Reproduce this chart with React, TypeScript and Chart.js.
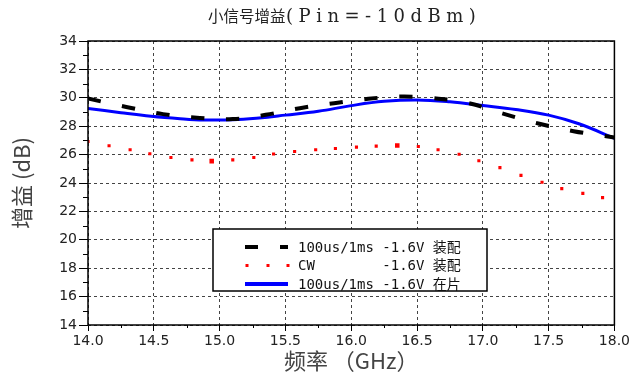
import React, { useEffect, useRef } from 'react';
import { Chart, registerables } from 'chart.js';

Chart.register(...registerables);

// ---- text ----
const TITLE_CN = '小信号增益';
const TITLE_EN = '(Pin=-10dBm)';
const X_TITLE = '频率 （GHz）';
const Y_TITLE = '增益 (dB)';
const LEGEND_LABELS = [
  '100us/1ms -1.6V 装配',
  'CW        -1.6V 装配',
  '100us/1ms -1.6V 在片',
];

// ---- axis ranges ----
const X_MIN = 14;
const X_MAX = 18;
const X_STEP = 0.5;
const Y_MIN = 14;
const Y_MAX = 34;
const Y_STEP = 2;

// ---- series: 100us/1ms -1.6V 装配 (black dashed) ----
const PULSE_FREQ = [14.0, 14.3, 14.57, 14.85, 15.1, 15.35, 15.61, 15.87, 16.13, 16.38, 16.63, 16.88, 17.16, 17.43, 17.69, 18.0];
const PULSE_GAIN = [29.95, 29.34, 28.85, 28.58, 28.5, 28.8, 29.27, 29.62, 29.93, 30.09, 29.97, 29.65, 28.87, 28.17, 27.65, 27.2];

// ---- series: CW -1.6V 装配 (red dots) ----
const CW_FREQ = [14.0, 14.16, 14.32, 14.47, 14.63, 14.79, 14.94, 15.1, 15.26, 15.41, 15.57, 15.73, 15.88, 16.04, 16.19, 16.35, 16.51, 16.66, 16.82, 16.97, 17.13, 17.29, 17.45, 17.6, 17.76, 17.91];
const CW_GAIN = [26.92, 26.62, 26.34, 26.06, 25.8, 25.63, 25.54, 25.63, 25.8, 26.04, 26.22, 26.34, 26.43, 26.53, 26.6, 26.64, 26.57, 26.34, 26.02, 25.57, 25.08, 24.54, 24.05, 23.6, 23.27, 22.97];
const CW_MARKED = [6, 15];

// ---- series: 100us/1ms -1.6V 在片 (blue solid) ----
const ONCHIP_FREQ = [14.0, 14.25, 14.48, 14.7, 14.88, 15.1, 15.3, 15.5, 15.75, 16.0, 16.25, 16.5, 16.75, 17.0, 17.25, 17.5, 17.73, 18.0];
const ONCHIP_GAIN = [29.25, 28.95, 28.7, 28.53, 28.44, 28.45, 28.58, 28.78, 29.05, 29.45, 29.75, 29.85, 29.72, 29.46, 29.18, 28.78, 28.17, 27.15];

const toPoints = (xs: number[], ys: number[]) => xs.map((x, i) => ({ x, y: ys[i] }));

const decorPlugin = {
  id: 'decor',
  afterDraw(chart: any) {
    const { ctx, chartArea: a, scales } = chart;
    const xs = scales.x;
    const ys = scales.y;
    ctx.save();

    // minor ticks
    ctx.strokeStyle = '#000';
    ctx.lineWidth = 1;
    ctx.setLineDash([]);
    ctx.beginPath();
    for (let v = Y_MIN + Y_STEP / 2; v < Y_MAX; v += Y_STEP) {
      const py = Math.round(ys.getPixelForValue(v)) + 0.5;
      ctx.moveTo(a.left - 5, py);
      ctx.lineTo(a.left, py);
    }
    for (let v = X_MIN + X_STEP / 2; v < X_MAX; v += X_STEP) {
      const px = Math.round(xs.getPixelForValue(v)) + 0.5;
      ctx.moveTo(px, a.bottom);
      ctx.lineTo(px, a.bottom + 3);
    }
    ctx.stroke();

    // frame
    ctx.lineWidth = 1.5;
    ctx.strokeRect(a.left, a.top, a.right - a.left, a.bottom - a.top);

    // title
    ctx.fillStyle = '#222';
    ctx.textBaseline = 'middle';
    ctx.textAlign = 'left';
    ctx.font = "15.5px 'Noto Sans CJK SC'";
    ctx.fillText(TITLE_CN, 208, 16);
    ctx.font = "18px 'DejaVu Serif'";
    (ctx as any).letterSpacing = '5.5px';
    ctx.fillText(TITLE_EN, 286, 17);
    (ctx as any).letterSpacing = '0px';

    // legend box
    const bx = 213, by = 229, bw = 274, bh = 62;
    ctx.fillStyle = '#fff';
    ctx.fillRect(bx, by, bw, bh);
    ctx.strokeStyle = '#000';
    ctx.lineWidth = 1.5;
    ctx.strokeRect(bx, by, bw, bh);

    const ds = chart.data.datasets;
    const sx0 = 245, sx1 = 288;
    ds.forEach((d: any, i: number) => {
      const ry = 247 + i * 18.5;
      if (d.showLine === false) {
        ctx.fillStyle = d.pointBackgroundColor;
        [247, 268, 288].forEach((px) => ctx.fillRect(px - 1.5, ry - 1.5, 3, 3));
      } else {
        ctx.strokeStyle = d.borderColor;
        ctx.lineWidth = 4;
        ctx.setLineDash(d.borderDash || []);
        ctx.lineCap = 'butt';
        ctx.beginPath();
        ctx.moveTo(sx0, ry);
        ctx.lineTo(sx1, ry);
        ctx.stroke();
        ctx.setLineDash([]);
      }
      ctx.fillStyle = '#111';
      ctx.font = "14px 'DejaVu Sans Mono', 'Noto Sans CJK SC'";
      ctx.textBaseline = 'middle';
      ctx.fillText(d.label, 298, ry + 1);
    });

    ctx.restore();
  },
};

export default function App() {
  const ref = useRef<HTMLCanvasElement | null>(null);

  useEffect(() => {
    if (!ref.current) return;
    const tickFont = { family: "'DejaVu Sans', sans-serif", size: 14 };
    const chart = new Chart(ref.current, {
      type: 'line',
      data: {
        datasets: [
          {
            label: LEGEND_LABELS[0],
            data: toPoints(PULSE_FREQ, PULSE_GAIN),
            borderColor: '#000',
            borderWidth: 4,
            borderDash: [13, 22],
            borderCapStyle: 'butt',
            pointRadius: 0,
            tension: 0.4,
            fill: false,
          },
          {
            label: LEGEND_LABELS[1],
            data: toPoints(CW_FREQ, CW_GAIN),
            showLine: false,
            borderColor: '#ff0000',
            pointStyle: 'rect',
            pointBackgroundColor: '#ff0000',
            pointBorderWidth: 0,
            pointRadius: (c: any) => (CW_MARKED.includes(c.dataIndex) ? 3.2 : 2.2),
          },
          {
            label: LEGEND_LABELS[2],
            data: toPoints(ONCHIP_FREQ, ONCHIP_GAIN),
            borderColor: '#0000ff',
            borderWidth: 3,
            pointRadius: 0,
            tension: 0.4,
            fill: false,
          },
        ],
      } as any,
      options: {
        animation: false,
        responsive: false,
        devicePixelRatio: 1,
        layout: { padding: { top: 41, right: 15, bottom: 0, left: 0 } },
        plugins: {
          legend: { display: false },
          title: { display: false },
          tooltip: { enabled: false },
        },
        scales: {
          x: {
            type: 'linear',
            min: X_MIN,
            max: X_MAX,
            afterFit: (s: any) => { s.height = 56; },
            ticks: {
              stepSize: X_STEP,
              autoSkip: false,
              maxRotation: 0,
              callback: (v: any) => Number(v).toFixed(1),
              font: tickFont,
              color: '#222',
              padding: 2,
            },
            grid: { color: '#444', lineWidth: 1, tickLength: 6, tickColor: '#000', tickWidth: 1, tickBorderDash: [] },
            border: { display: false, dash: [3, 3] },
            title: {
              display: true,
              text: X_TITLE,
              font: { family: "'Noto Sans CJK SC'", size: 22 },
              color: '#444',
              padding: { top: 0, bottom: 7 },
            },
          },
          y: {
            type: 'linear',
            min: Y_MIN,
            max: Y_MAX,
            afterFit: (s: any) => { s.width = 88; },
            ticks: { stepSize: Y_STEP, font: tickFont, color: '#222', padding: 2 },
            grid: { color: '#444', lineWidth: 1, tickLength: 9, tickColor: '#000', tickWidth: 1, tickBorderDash: [] },
            border: { display: false, dash: [3, 3] },
            title: {
              display: true,
              text: Y_TITLE,
              font: { family: "'Noto Sans CJK SC'", size: 22 },
              color: '#444',
              padding: { top: 8, bottom: 0 },
            },
          },
        },
      } as any,
      plugins: [decorPlugin],
    });
    return () => chart.destroy();
  }, []);

  return (
    <div style={{ position: 'absolute', left: 0, top: 0, width: 632, height: 381, background: '#fff' }}>
      <canvas ref={ref} width={632} height={381} style={{ display: 'block', width: 632, height: 381 }} />
    </div>
  );
}
